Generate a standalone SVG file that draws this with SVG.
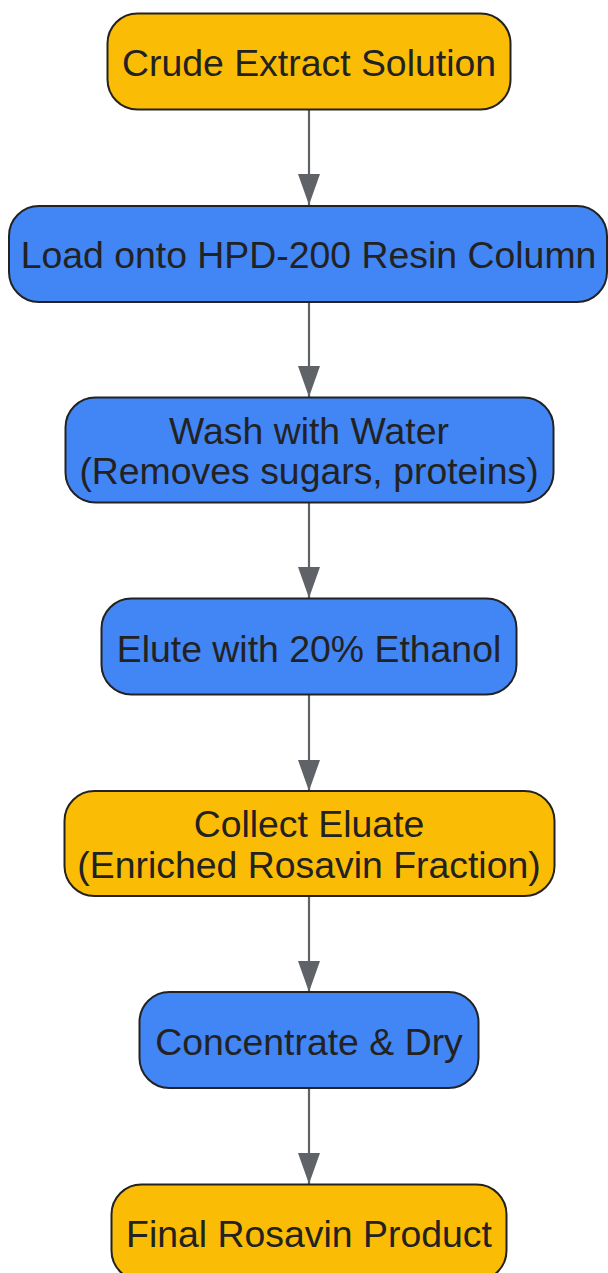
<svg xmlns="http://www.w3.org/2000/svg" width="608" height="1273" viewBox="0 0 608 1273">
<style>
.n rect{stroke:#222;stroke-width:2}
.o rect{fill:#FBBC05}
.b rect{fill:#4285F4}
text{font-family:"Liberation Sans",Arial,sans-serif;font-size:37.4px;fill:#222;text-anchor:middle}
.e line{stroke:#5f6368;stroke-width:2.2;fill:none}
</style>
<defs>
<marker id="ah" markerUnits="userSpaceOnUse" viewBox="0 0 31 22" markerWidth="31" markerHeight="22" refX="31" refY="11" orient="auto">
<path d="M0,0 L31,11 L0,22 z" fill="#5f6368"/>
</marker>
</defs>
<g id="edges" class="e">
<line x1="309" y1="110" x2="309" y2="205" marker-end="url(#ah)"/>
<line x1="309" y1="302" x2="309" y2="397" marker-end="url(#ah)"/>
<line x1="309" y1="503" x2="309" y2="598" marker-end="url(#ah)"/>
<line x1="309" y1="695" x2="309" y2="791" marker-end="url(#ah)"/>
<line x1="309" y1="896" x2="309" y2="992" marker-end="url(#ah)"/>
<line x1="309" y1="1088" x2="309" y2="1184" marker-end="url(#ah)"/>
</g>
<g id="n1" class="n o"><rect x="107.5" y="13.5" width="403" height="96" rx="30"/><text x="309" y="76">Crude Extract Solution</text></g>
<g id="n2" class="n b"><rect x="9" y="206" width="598" height="96" rx="30"/><text x="308.5" y="268">Load onto HPD-200 Resin Column</text></g>
<g id="n3" class="n b"><rect x="65.5" y="397.5" width="488" height="105" rx="30"/><text x="309" y="444">Wash with Water</text><text x="309" y="484">(Removes sugars, proteins)</text></g>
<g id="n4" class="n b"><rect x="101.5" y="598.5" width="415" height="96" rx="30"/><text x="309" y="662">Elute with 20% Ethanol</text></g>
<g id="n5" class="n o"><rect x="64.5" y="791" width="490" height="105" rx="30"/><text x="309" y="837">Collect Eluate</text><text x="309" y="878">(Enriched Rosavin Fraction)</text></g>
<g id="n6" class="n b"><rect x="139.5" y="992" width="339" height="96" rx="30"/><text x="309" y="1055">Concentrate &amp; Dry</text></g>
<g id="n7" class="n o"><rect x="111.5" y="1184.5" width="395" height="96" rx="30"/><text x="309" y="1247">Final Rosavin Product</text></g>
</svg>
